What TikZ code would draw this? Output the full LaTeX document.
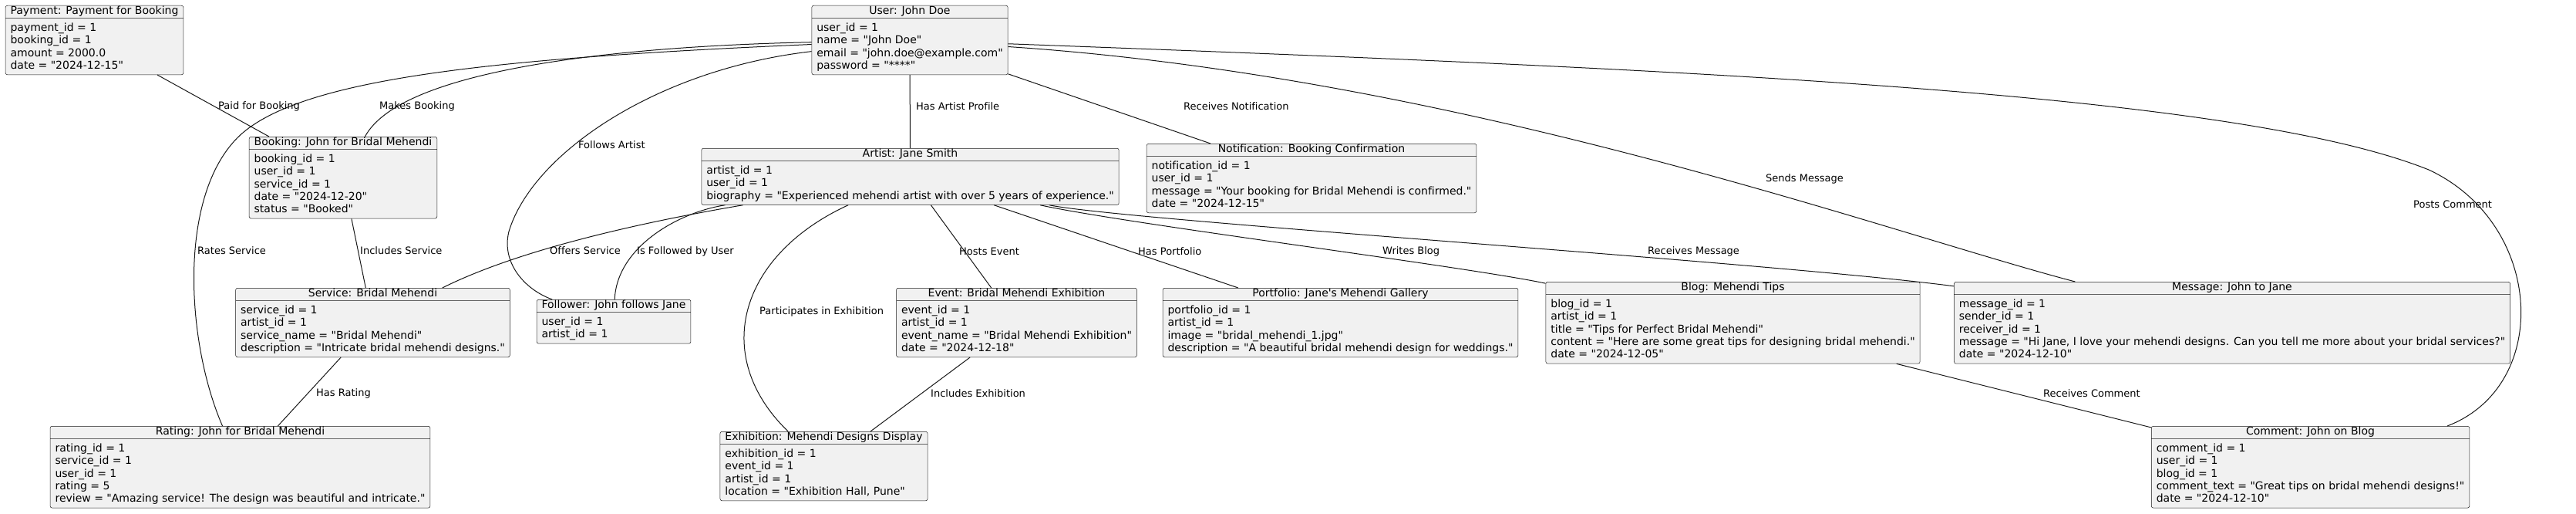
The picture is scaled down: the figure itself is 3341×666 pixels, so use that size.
\documentclass[tikz,border=0pt]{standalone}
\usepackage{fontspec}
\setmainfont{DejaVu Sans}[Ligatures={TeXOff,CommonOff}]
\usetikzlibrary{shapes.multipart}
\definecolor{objfill}{HTML}{F1F1F1}
\definecolor{objline}{HTML}{181818}

\begin{document}
\begin{tikzpicture}[x=1pt, y=-1pt,
    obj/.style = {rectangle split, rectangle split parts=2, rectangle split part align={center,left},
      align=left, draw=objline, line width=0.5pt, fill=objfill, rounded corners=2.5pt,
      inner xsep=6.5pt, inner ysep=0pt, anchor=north, font=\fontsize{14pt}{16.3pt}\selectfont},
    lbl/.style = {anchor=west, inner sep=0pt, font=\fontsize{13pt}{15pt}\selectfont},
    conn/.style = {draw=objline, line width=1pt}]
    \useasboundingbox (0,0) rectangle (3341,666);

    % rank 0
    \node[obj] (payment) at (122.5,7) {\rule[-5pt]{0pt}{15pt}Payment: Payment for Booking
      \nodepart{two}\rule{0pt}{17pt}payment\_id = 1\\booking\_id = 1\\amount = 2000.0\\date = "2024-12-15"\rule[-7pt]{0pt}{7pt}};
    \node[obj] (user) at (1180,7) {\rule[-5pt]{0pt}{15pt}User: John Doe
      \nodepart{two}\rule{0pt}{17pt}user\_id = 1\\name = "John Doe"\\email = "john.doe@example.com"\\password = "****"\rule[-7pt]{0pt}{7pt}};

    % rank 1
    \node[obj] (booking) at (445,177) {\rule[-5pt]{0pt}{15pt}Booking: John for Bridal Mehendi
      \nodepart{two}\rule{0pt}{17pt}booking\_id = 1\\user\_id = 1\\service\_id = 1\\date = "2024-12-20"\\status = "Booked"\rule[-7pt]{0pt}{7pt}};
    \node[obj] (artist) at (1180.5,192) {\rule[-5pt]{0pt}{15pt}Artist: Jane Smith
      \nodepart{two}\rule{0pt}{17pt}artist\_id = 1\\user\_id = 1\\biography = "Experienced mehendi artist with over 5 years of experience."\rule[-7pt]{0pt}{7pt}};
    \node[obj] (notification) at (1701,186) {\rule[-5pt]{0pt}{15pt}Notification: Booking Confirmation
      \nodepart{two}\rule{0pt}{17pt}notification\_id = 1\\user\_id = 1\\message = "Your booking for Bridal Mehendi is confirmed."\\date = "2024-12-15"\rule[-7pt]{0pt}{7pt}};

    % rank 2
    \node[obj] (service) at (483.5,373) {\rule[-5pt]{0pt}{15pt}Service: Bridal Mehendi
      \nodepart{two}\rule{0pt}{17pt}service\_id = 1\\artist\_id = 1\\service\_name = "Bridal Mehendi"\\description = "Intricate bridal mehendi designs."\rule[-7pt]{0pt}{7pt}};
    \node[obj] (follower) at (796,388) {\rule[-5pt]{0pt}{15pt}Follower: John follows Jane
      \nodepart{two}\rule{0pt}{17pt}user\_id = 1\\artist\_id = 1\rule[-7pt]{0pt}{7pt}};
    \node[obj] (event) at (1318.5,373) {\rule[-5pt]{0pt}{15pt}Event: Bridal Mehendi Exhibition
      \nodepart{two}\rule{0pt}{17pt}event\_id = 1\\artist\_id = 1\\event\_name = "Bridal Mehendi Exhibition"\\date = "2024-12-18"\rule[-7pt]{0pt}{7pt}};
    \node[obj] (portfolio) at (1738.5,373) {\rule[-5pt]{0pt}{15pt}Portfolio: Jane's Mehendi Gallery
      \nodepart{two}\rule{0pt}{17pt}portfolio\_id = 1\\artist\_id = 1\\image = "bridal\_mehendi\_1.jpg"\\description = "A beautiful bridal mehendi design for weddings."\rule[-7pt]{0pt}{7pt}};
    \node[obj] (blog) at (2247.5,365) {\rule[-5pt]{0pt}{15pt}Blog: Mehendi Tips
      \nodepart{two}\rule{0pt}{17pt}blog\_id = 1\\artist\_id = 1\\title = "Tips for Perfect Bridal Mehendi"\\content = "Here are some great tips for designing bridal mehendi."\\date = "2024-12-05"\rule[-7pt]{0pt}{7pt}};
    \node[obj] (message) at (2895,365) {\rule[-5pt]{0pt}{15pt}Message: John to Jane
      \nodepart{two}\rule{0pt}{17pt}message\_id = 1\\sender\_id = 1\\receiver\_id = 1\\message = "Hi Jane, I love your mehendi designs. Can you tell me more about your bridal services?"\\date = "2024-12-10"\rule[-7pt]{0pt}{7pt}};

    % rank 3
    \node[obj] (rating) at (311.5,552) {\rule[-5pt]{0pt}{15pt}Rating: John for Bridal Mehendi
      \nodepart{two}\rule{0pt}{17pt}rating\_id = 1\\service\_id = 1\\user\_id = 1\\rating = 5\\review = "Amazing service! The design was beautiful and intricate."\rule[-7pt]{0pt}{7pt}};
    \node[obj] (exhibition) at (1068.5,559) {\rule[-5pt]{0pt}{15pt}Exhibition: Mehendi Designs Display
      \nodepart{two}\rule{0pt}{17pt}exhibition\_id = 1\\event\_id = 1\\artist\_id = 1\\location = "Exhibition Hall, Pune"\rule[-7pt]{0pt}{7pt}};
    \node[obj] (comment) at (2996.5,552) {\rule[-5pt]{0pt}{15pt}Comment: John on Blog
      \nodepart{two}\rule{0pt}{17pt}comment\_id = 1\\user\_id = 1\\blog\_id = 1\\comment\_text = "Great tips on bridal mehendi designs!"\\date = "2024-12-10"\rule[-7pt]{0pt}{7pt}};

    \path[conn]
    (payment) edge (booking)
    (user) edge (artist)
    (user) edge (notification)
    (booking) edge (service)
    (artist) edge (event)
    (artist) edge (portfolio)
    (service) edge (rating)
    (event) edge (exhibition)
    (blog) edge (comment)
    ;

    \draw[conn] (user) .. controls (800,60) and (520,90) .. (booking);
    \draw[conn] (user) .. controls (650,75) and (400,100) .. (315,172)
      .. controls (230,245) and (240,440) .. (rating);
    \draw[conn] (user) .. controls (850,90) and (690,200) .. (660,300)
      .. controls (650,340) and (680,375) .. (follower);
    \draw[conn] (user) .. controls (1900,100) and (2450,302) .. (message);
    \draw[conn] (user) .. controls (2200,90) and (2900,120) .. (3150,220)
      .. controls (3300,290) and (3310,500) .. ([xshift=-29pt]comment.north east);
    \draw[conn] (artist) .. controls (850,285) and (680,320) .. (service);
    \draw[conn] (artist) .. controls (880,275) and (800,320) .. (follower);
    \draw[conn] (artist) .. controls (960,330) and (920,460) .. (exhibition);
    \draw[conn] (artist) .. controls (1460,290) and (1900,345) .. (blog);
    \draw[conn] (artist) .. controls (1460,286) and (2300,340) .. (message);

    \node[lbl] (lPaid) at (283,138) {Paid for Booking};
    \node[lbl] (lMakes) at (492,138) {Makes Booking};
    \node[lbl] (lProfile) at (1188,138) {Has Artist Profile};
    \node[lbl] (lNotif) at (1535,138) {Receives Notification};
    \node[lbl] (lFollows) at (750,188) {Follows Artist};
    \node[lbl] (lSends) at (2290,232) {Sends Message};
    \node[lbl] (lPosts) at (3130,265) {Posts Comment};
    \node[lbl] (lRates) at (256,325) {Rates Service};
    \node[lbl] (lInclSrv) at (467,325) {Includes Service};
    \node[lbl] (lOffers) at (713,325) {Offers Service};
    \node[lbl] (lFollowed) at (826,326) {Is Followed by User};
    \node[lbl] (lPartic) at (985,404) {Participates in Exhibition};
    \node[lbl] (lHosts) at (1244,326) {Hosts Event};
    \node[lbl] (lPortf) at (1476,326) {Has Portfolio};
    \node[lbl] (lWrites) at (1793,326) {Writes Blog};
    \node[lbl] (lRecMsg) at (2137,326) {Receives Message};
    \node[lbl] (lRating) at (410,510) {Has Rating};
    \node[lbl] (lInclEx) at (1207,510) {Includes Exhibition};
    \node[lbl] (lRecCom) at (2650,510) {Receives Comment};
  \end{tikzpicture}
\end{document}
